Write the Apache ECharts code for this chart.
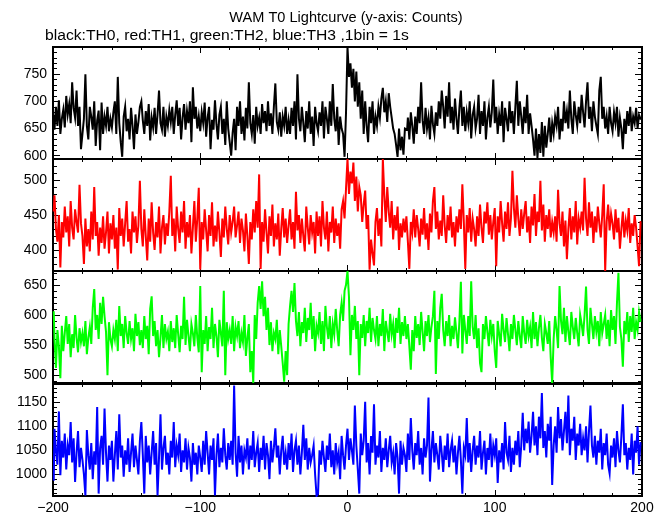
<!DOCTYPE html>
<html><head><meta charset="utf-8">
<script src="https://cdn.jsdelivr.net/npm/echarts@6/dist/echarts.min.js"></script>
<style>html,body{margin:0;padding:0;background:#fff}#c{width:669px;height:515px}</style>
</head><body><div id="c"></div>
<script>
// Time bins: 1 s each, from -200 s to 199 s
const binStart = -200;

// TH0 (black) counts per 1 s bin
const th0 = [
675,648,690,655,702,640,668,685,652,710,676,695,660,735,688,670,720,655,690,612,
640,668,750,655,630,690,672,648,700,618,665,683,610,698,640,672,655,690,645,668,
652,680,700,640,745,660,625,598,672,690,645,668,630,688,655,612,676,640,662,690,
700,665,640,682,655,695,628,670,652,688,640,676,720,660,648,690,635,672,655,684,
662,690,640,675,702,655,688,630,670,695,648,682,660,700,625,726,668,690,650,672,
645,680,660,698,635,670,690,612,666,648,702,658,630,675,690,640,668,620,700,650,
625,600,642,668,610,690,655,700,640,672,628,688,650,735,660,640,675,622,690,655,
670,640,695,660,682,645,700,655,678,640,690,733,662,648,680,635,672,655,690,640,
665,640,688,655,700,630,750,668,645,690,660,625,682,650,700,640,672,618,690,660,
645,680,655,700,632,690,668,640,700,655,732,668,645,690,620,672,650,640,598,680,
800,745,770,725,760,700,755,690,735,668,720,640,700,655,625,690,660,700,640,672,
655,690,670,705,725,680,700,662,715,690,670,650,640,620,598,650,610,635,602,650,
648,670,630,680,655,622,672,640,690,660,735,665,640,688,650,670,630,692,658,640,
680,655,700,668,720,690,650,710,672,735,660,690,648,705,668,640,688,720,655,690,
645,680,660,700,632,675,690,650,668,712,640,682,655,700,630,670,690,652,680,740,
660,690,640,676,655,700,625,688,668,645,700,660,682,640,690,738,655,700,672,640,
690,660,712,640,678,655,630,600,650,596,640,605,662,598,655,615,640,670,625,660,
640,672,655,690,630,668,645,700,660,682,650,720,668,640,700,675,655,690,660,712,
680,652,700,735,668,690,645,700,672,655,640,720,745,668,690,650,672,640,690,660,
645,680,660,690,635,670,650,612,668,640,682,655,690,645,672,660,688,650,675,668
];

// TH1 (red)
const th1 = [
455,478,430,412,450,375,440,418,462,425,448,405,470,432,415,458,440,425,493,438,
420,380,445,405,430,398,455,415,490,420,440,392,432,410,448,402,425,455,395,438,
415,450,402,432,372,460,420,445,405,438,470,412,430,395,455,425,448,410,435,499,
430,405,458,420,385,445,412,468,425,400,440,418,462,395,432,450,408,438,420,455,
506,420,445,398,462,430,410,455,425,470,402,440,418,450,395,432,470,412,445,489,
372,440,415,458,428,398,450,420,468,405,435,412,455,425,390,445,418,462,430,408,
450,425,440,462,418,435,455,410,445,428,398,452,420,380,440,415,458,425,470,432,
508,373,440,412,458,425,395,448,420,465,405,438,415,452,392,430,460,418,445,410,
435,458,415,440,402,483,428,450,410,445,420,398,462,432,408,450,425,440,395,455,
420,448,405,470,432,415,455,398,440,425,462,410,445,420,438,402,458,470,445,488,
530,480,512,495,525,470,505,455,490,478,440,465,485,430,450,372,415,395,378,440,
460,420,445,405,530,478,440,490,455,432,470,415,450,428,462,400,438,418,445,425,
448,412,373,440,425,458,418,450,430,405,445,422,460,415,438,400,452,425,470,490,
430,455,415,442,420,478,435,410,450,428,462,418,440,405,448,425,458,430,494,440,
373,450,425,460,412,445,430,405,448,420,465,432,410,455,438,468,422,450,415,440,
460,377,448,425,470,438,412,455,430,468,420,445,513,460,432,478,445,420,458,430,
452,470,425,448,410,462,435,480,420,455,440,499,428,465,412,450,430,458,418,440,
425,448,412,486,438,420,455,405,442,387,430,460,415,448,425,470,408,445,432,455,
428,503,445,420,468,432,455,410,448,425,462,438,418,450,494,370,440,465,428,452,
438,415,458,425,446,402,430,455,418,442,428,460,410,438,420,450,432,405,377,440
];

// TH2 (green)
const th2 = [
606,560,512,575,548,495,582,540,570,598,552,585,530,568,545,600,562,538,578,555,
570,548,590,535,562,580,552,612,643,575,600,560,620,585,630,598,572,500,588,560,
548,575,560,592,540,615,565,585,545,598,570,552,590,560,578,540,602,565,588,550,
575,545,598,560,582,535,610,631,565,590,548,575,530,562,600,545,585,560,572,540,
590,555,578,545,600,568,538,582,560,630,550,592,565,540,585,570,548,600,562,538,
648,505,575,552,598,540,580,560,612,545,585,565,530,592,570,548,640,500,588,560,
575,552,598,540,580,565,590,545,570,555,600,532,562,585,505,540,487,600,560,620,
648,610,656,598,630,575,612,550,588,540,570,560,592,535,575,548,520,489,540,500,
585,615,640,605,653,590,565,605,548,588,570,612,555,595,575,620,560,598,540,582,
570,605,552,590,540,615,580,560,598,545,585,568,610,575,548,600,620,590,640,650,
673,630,533,600,575,615,560,590,500,585,562,600,548,590,570,612,555,595,575,560,
598,548,585,565,610,540,590,572,555,602,568,585,545,595,570,612,552,588,565,598,
560,585,548,509,575,540,598,562,585,550,605,572,540,590,565,600,555,580,598,640,
502,590,560,612,635,575,548,590,565,600,548,582,560,596,570,545,590,655,536,600,
575,552,598,565,656,580,560,600,545,578,520,505,585,560,598,572,548,592,565,585,
540,512,590,568,548,602,575,555,595,568,540,585,560,600,575,550,590,565,545,598,
570,552,592,565,580,545,605,560,588,548,578,600,562,540,585,570,552,590,530,487,
560,598,575,545,648,590,568,612,555,598,572,550,605,580,560,595,570,548,600,585,
565,600,647,575,552,612,585,560,598,572,590,548,605,570,585,600,560,592,548,608,
575,598,552,620,670,580,560,514,590,568,605,555,598,572,612,560,588,575,605,590
];

// TH3 (blue)
const th3 = [
987,1095,1050,1020,1131,998,1070,1035,1085,1010,1060,1040,1109,1025,1075,984,1045,1090,1015,1055,
1030,1000,956,1092,1040,1010,1065,990,1048,1020,1140,960,1055,1080,1020,1137,1045,985,1060,1030,
1070,985,1040,1090,1010,1125,1035,1060,995,1050,1020,1075,1005,1045,1085,1015,1060,1030,1000,1070,
1109,1040,960,1080,1025,1060,1000,1045,1090,1020,1065,956,1035,1125,1010,1055,1080,1020,1045,1000,
1070,1035,1109,1015,1060,1040,1085,1005,1050,1025,1075,1010,1055,1035,985,1065,1020,1045,1000,1060,
1035,1005,1070,1020,1090,1045,1000,1060,1030,1075,956,1040,1085,1015,1055,1025,1096,1040,1010,1065,
1030,1070,1020,1185,1045,995,1080,1025,1060,1000,1050,1035,1075,1010,1060,1030,1090,1015,1045,1065,
1005,1055,1030,1080,1010,1065,1040,990,1070,1025,1055,1096,1035,1060,1000,1050,1080,1020,1045,1010,
1065,1030,1085,1005,1050,1070,1020,1060,1000,1045,1103,1030,1075,1010,1055,1025,1040,1060,1000,955,
960,1050,1020,1070,1035,1005,1060,1030,1085,1015,1050,1000,1065,1025,1045,990,1080,1040,1010,1060,
1095,1030,1075,1050,1020,1143,1060,1010,960,1085,1040,1070,1151,1025,1065,1000,1080,1045,1146,1020,
1060,1035,1090,1005,1055,1030,1075,1015,1050,1080,1025,1045,1000,1065,1035,960,1070,1020,1055,1040,
1005,1085,1030,1117,1050,1010,1065,1040,1090,1020,1055,1000,1075,1035,1060,1160,985,1050,1090,1025,
1065,1040,1010,1080,1045,1005,1060,1030,1085,1015,1050,1070,1025,1060,1000,1045,1080,1030,960,1055,
1040,1117,1025,1065,1005,1050,1080,1020,1060,1035,1090,1010,1045,1070,1000,1055,1030,1085,1015,1060,
1040,1075,982,1050,1025,1065,1010,1109,1045,1030,1080,1005,1055,1020,1070,1040,1090,1015,1060,1128,
1050,1095,1065,1110,1045,1080,1130,1060,1100,1040,1120,1075,1169,1055,1090,1035,1105,1070,1120,978,
1060,1100,1045,1140,1075,1115,1050,1090,1130,1065,1164,1040,1095,1070,1120,1030,1085,1060,1105,1040,
1075,1050,1100,1025,1090,1143,1060,1035,1080,1020,1070,1045,1095,1010,1065,1040,1085,1020,1002,1060,
1035,1075,1015,1090,1050,1025,1080,1146,1040,1065,1010,1055,1030,1085,1000,1070,1045,1100,1020,1065
];

// Axis ranges and labelled ticks
const yRanges = [[594, 800], [370, 530], [487, 673], [955, 1188]];
const yMajor = [[600, 650, 700, 750], [400, 450, 500], [500, 550, 600, 650], [1000, 1050, 1100, 1150]];
const yMinorStep = [10, 10, 10, 10];
const xTickLabels = {'-200': '\u2212200', '-100': '\u2212100', '0': '0', '100': '100', '200': '200'};
const colors = ['#000000', '#ff0000', '#00ff00', '#0000ff'];
const seriesData = [th0, th1, th2, th3];
const titleText = 'WAM T0 Lightcurve (y-axis: Counts)';
const subText = 'black:TH0, red:TH1, green:TH2, blue:TH3 ,1bin = 1s';

// Layout
const FONT = 'Liberation Sans, Arial, Helvetica, sans-serif';
const tops = [47, 159, 271, 384];
const panelH = 112;

const grids = [], xAxes = [], yAxes = [], series = [];
for (let i = 0; i < 4; i++) {
  grids.push({left: 53, right: 27, top: tops[i], height: panelH, show: true,
    borderColor: '#000', borderWidth: 2, backgroundColor: 'rgba(0,0,0,0)'});
  const xBase = {gridIndex: i, type: 'value', min: -200, max: 200, interval: 100,
    axisLine: {show: false, onZero: false}, splitLine: {show: false}, minorSplitLine: {show: false},
    axisTick: {inside: true, length: 6, lineStyle: {color: '#000', width: 1}},
    minorTick: {show: true, splitNumber: 5, length: 3, lineStyle: {color: '#000', width: 1}}};
  xAxes.push(Object.assign({}, xBase, {position: 'bottom',
    axisLabel: {show: i === 3, color: '#000', fontSize: 14, fontFamily: FONT, margin: 5,
      formatter: v => xTickLabels[String(v)] || String(v)}}));
  xAxes.push(Object.assign({}, xBase, {position: 'top', axisLabel: {show: false}}));

  const [mn, mx] = yRanges[i];
  const minors = [];
  for (let v = Math.ceil(mn / yMinorStep[i]) * yMinorStep[i]; v <= mx; v += yMinorStep[i]) {
    if (yMajor[i].indexOf(v) < 0) minors.push(v);
  }
  const yBase = {gridIndex: i, type: 'value', min: mn, max: mx, scale: true,
    axisLine: {show: false, onZero: false}, splitLine: {show: false}};
  ['left', 'right'].forEach(pos => {
    yAxes.push(Object.assign({}, yBase, {position: pos,
      axisTick: {show: true, inside: true, length: 7, customValues: yMajor[i], lineStyle: {color: '#000', width: 1}},
      axisLabel: {show: pos === 'left', customValues: yMajor[i], color: '#000', fontSize: 14, fontFamily: FONT, margin: 6,
        formatter: v => String(v)}}));
    yAxes.push(Object.assign({}, yBase, {position: pos,
      axisTick: {show: true, inside: true, length: 4, customValues: minors, lineStyle: {color: '#000', width: 1}},
      axisLabel: {show: false}}));
  });

  const pts = seriesData[i].map((v, k) => [binStart + k + 0.5, v]);
  series.push({type: 'line', xAxisIndex: 2 * i, yAxisIndex: 4 * i, data: pts, step: 'middle',
    showSymbol: false, symbol: 'none', clip: true, sampling: null,
    lineStyle: {color: colors[i], width: 2, join: 'miter', cap: 'butt'}, z: 2});
}

const chart = echarts.init(document.getElementById('c'), null, {renderer: 'canvas'});
chart.setOption({
  animation: false,
  backgroundColor: '#fff',
  grid: grids, xAxis: xAxes, yAxis: yAxes, series: series,
  graphic: [
    {type: 'text', x: 346, y: 18, scaleX: 1.04, style: {text: titleText, textAlign: 'center', textVerticalAlign: 'middle', fill: '#000', font: '14px ' + FONT}},
    {type: 'text', x: 45, y: 36, scaleX: 1.12, style: {text: subText, textAlign: 'left', textVerticalAlign: 'middle', fill: '#000', font: '14px ' + FONT}}
  ]
});
</script>
</body></html>
